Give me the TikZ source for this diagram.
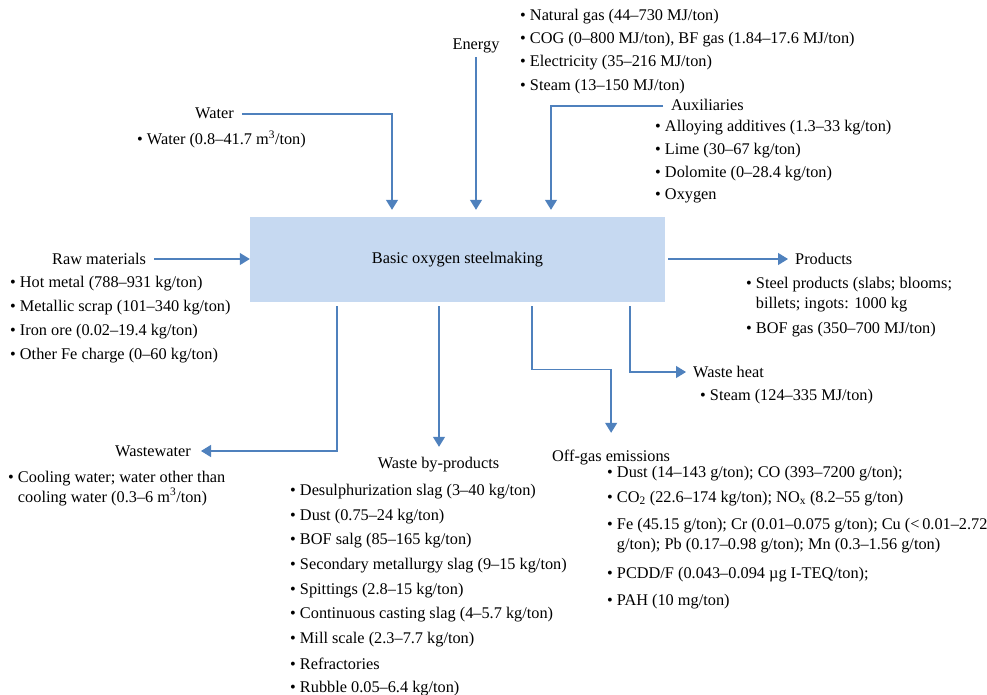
\documentclass[tikz,border=0pt]{standalone}
\usepackage{fontspec}
\setmainfont{Liberation Serif}
\usetikzlibrary{arrows.meta}
\definecolor{flowblue}{HTML}{4F81BD}
\definecolor{boxfill}{HTML}{C6D9F1}
\newcommand\twolines[2]{\begin{tabular}[t]{@{}l@{}}#1\\#2\end{tabular}}
\begin{document}
\begin{tikzpicture}[x=1pt,y=-1pt,
  font=\fontsize{16.3}{20}\selectfont,
  flow/.style={draw=flowblue, line width=1.3pt, -{Triangle[length=10pt,width=12pt]}},
  procbox/.style={fill=boxfill, minimum width=415pt, minimum height=85pt, inner sep=0},
  head/.style={inner sep=0, text height=10pt, text depth=0pt},
  itm/.style={inner sep=0, anchor=base west},
]
\useasboundingbox (0,0) rectangle (987,695);

% central process
\node[procbox] (bos) at (457.5,259.5) {Basic oxygen steelmaking};

% x positions of the vertical connectors
\coordinate (wax) at (392,0);
\coordinate (axx) at (551,0);
\coordinate (wwx) at (337,0);
\coordinate (wbx) at (439,0);
\coordinate (ogx) at (532,0);
\coordinate (whx) at (630,0);

% headings
\node[head, anchor=west] (wa) at (195,114) {Water};
\node[head] (en) at (476,45) {Energy};
\node[head, anchor=west] (ax) at (671,106) {Auxiliaries};
\node[head, anchor=west] (rm) at (52,259) {Raw materials};
\node[head, anchor=west] (pr) at (795,259) {Products};
\node[head, anchor=west] (wh) at (693,372) {Waste heat};
\node[head, anchor=west] (og) at (552,456) {Off-gas emissions};
\node[head] (wb) at (438.5,463) {Waste by-products};
\node[head, anchor=east] (ww) at (191,451) {Wastewater};

% inputs
\draw[flow, shorten <=8pt, shorten >=7pt] (wa.east) -| (bos.north -| wax);
\draw[flow, shorten <=7pt, shorten >=7pt] (en.south) -- (bos.north -| en.south);
\draw[flow, shorten <=8pt, shorten >=7pt] (ax.west) -| (bos.north -| axx);
\draw[flow, shorten <=8pt] (rm.east) -- (bos.west |- rm.east);

% outputs
\draw[flow, shorten <=3pt, shorten >=7pt] (bos.east |- pr.west) -- (pr.west);
\draw[flow, shorten <=4pt, shorten >=7pt] (bos.south -| whx) |- (wh.west);
\draw[flow, shorten <=4pt, shorten >=18pt] (bos.south -| ogx) -- ++(0,67) -| (og.north);
\draw[flow, shorten <=4pt, shorten >=11pt] (bos.south -| wbx) -- (wb.north -| wbx);
\draw[flow, shorten <=4pt, shorten >=10pt] (bos.south -| wwx) |- (ww.east);

% energy
\node[itm] (en1) at (520,21) {\textbullet\ Natural gas (44–730 MJ/ton)};
\node[itm] (en2) at (520,44) {\textbullet\ COG (0–800 MJ/ton), BF gas (1.84–17.6 MJ/ton)};
\node[itm] (en3) at (520,67) {\textbullet\ Electricity (35–216 MJ/ton)};
\node[itm] (en4) at (520,91) {\textbullet\ Steam (13–150 MJ/ton)};

% water
\node[itm] (wa1) at (137,145) {\textbullet\ Water (0.8–41.7 m\textsuperscript{3}/ton)};

% auxiliaries
\node[itm] (ax1) at (655,132) {\textbullet\ Alloying additives (1.3–33 kg/ton)};
\node[itm] (ax2) at (655,155) {\textbullet\ Lime (30–67 kg/ton)};
\node[itm] (ax3) at (655,178) {\textbullet\ Dolomite (0–28.4 kg/ton)};
\node[itm] (ax4) at (655,200) {\textbullet\ Oxygen};

% raw materials
\node[itm] (rm1) at (10,287) {\textbullet\ Hot metal (788–931 kg/ton)};
\node[itm] (rm2) at (10,311) {\textbullet\ Metallic scrap (101–340 kg/ton)};
\node[itm] (rm3) at (10,335) {\textbullet\ Iron ore (0.02–19.4 kg/ton)};
\node[itm] (rm4) at (10,359) {\textbullet\ Other Fe charge (0–60 kg/ton)};

% products
\node[itm] (pr1) at (746,288) {\textbullet\ \twolines{Steel products (slabs; blooms;}{billets; ingots: 1000 kg}};
\node[itm] (pr2) at (746,333) {\textbullet\ BOF gas (350–700 MJ/ton)};

% waste heat
\node[itm] (wh1) at (700,400) {\textbullet\ Steam (124–335 MJ/ton)};

% off-gas emissions
\node[itm] (og1) at (607,477) {\textbullet\ Dust (14–143 g/ton); CO (393–7200 g/ton);};
\node[itm] (og2) at (607,502) {\textbullet\ CO\textsubscript{2} (22.6–174 kg/ton); NO\textsubscript{x} (8.2–55 g/ton)};
\node[itm] (og3) at (607,529) {\textbullet\ \twolines{Fe (45.15 g/ton); Cr (0.01–0.075 g/ton); Cu (<\,0.01–2.72}{g/ton); Pb (0.17–0.98 g/ton); Mn (0.3–1.56 g/ton)}};
\node[itm] (og4) at (607,578) {\textbullet\ PCDD/F (0.043–0.094 µg I-TEQ/ton);};
\node[itm] (og5) at (607,605) {\textbullet\ PAH (10 mg/ton)};

% waste by-products
\node[itm] (wb1) at (290,495) {\textbullet\ Desulphurization slag (3–40 kg/ton)};
\node[itm] (wb2) at (290,520) {\textbullet\ Dust (0.75–24 kg/ton)};
\node[itm] (wb3) at (290,544) {\textbullet\ BOF salg (85–165 kg/ton)};
\node[itm] (wb4) at (290,569) {\textbullet\ Secondary metallurgy slag (9–15 kg/ton)};
\node[itm] (wb5) at (290,594) {\textbullet\ Spittings (2.8–15 kg/ton)};
\node[itm] (wb6) at (290,618) {\textbullet\ Continuous casting slag (4–5.7 kg/ton)};
\node[itm] (wb7) at (290,643) {\textbullet\ Mill scale (2.3–7.7 kg/ton)};
\node[itm] (wb8) at (290,669) {\textbullet\ Refractories};
\node[itm] (wb9) at (290,692) {\textbullet\ Rubble 0.05–6.4 kg/ton)};

% wastewater
\node[itm] (ww1) at (8,482) {\textbullet\ \twolines{Cooling water; water other than}{cooling water (0.3–6 m\textsuperscript{3}/ton)}};
\end{tikzpicture}
\end{document}
